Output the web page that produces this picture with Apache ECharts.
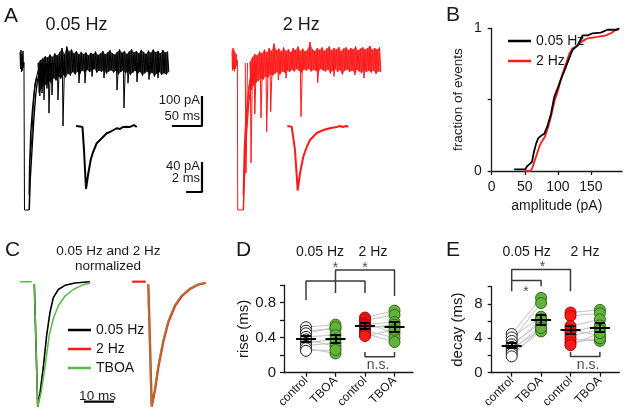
<!DOCTYPE html>
<html>
<head>
<meta charset="utf-8">
<script src="https://cdn.jsdelivr.net/npm/echarts@6/dist/echarts.min.js"></script>
<style>
  html, body { margin: 0; padding: 0; background: #fff; }
  #chart { width: 626px; height: 419px; }
</style>
</head>
<body>
<div id="chart"></div>
<script>
// ---------- Panel A: sweeps (ms, pA) ----------
const bandStart = 30, bandStep = 4

const aBlackStart = [[0, 27], [0.8, -30], [1.7, 33], [2.5, -40], [3.3, 20], [4.2, -35], [5, 30], [5.8, -25], [6.6, -8]]
const aBlackDip = [[6.6, -8], [7.5, -500], [15.5, -500], [15.6, -355], [19.5, -267], [22.2, -155], [25, -77], [30.5, -33]]
const aBlackSweeps = [
  [[15.5, -500], [17, -400], [20, -300], [23, -200], [26, -120], [29, -70], [33, -40]],
  [[15.5, -450], [16.5, -330], [18, -240], [21, -160], [24, -100], [28, -55]]
]
const aBlackUpper = [
  -10, 0, 5, 12, 8, 18, 10, 22, 15, 25, 40,
  20, 45, 28, 35, 22, 30, 18, 27, 20, 25, 15,
  24, 20, 28, 17, 22, 30, 19, 25, 32, 22, 18,
  27, 35, 24, 30, 20, 28, 36, 25, 30, 22, 33,
  27, 20, 31, 24, 35, 26, 30, 22, 33, 25, 28
]
const aBlackLower = [
  -110, -95, -80, -85, -70, -75, -60, -68, -55, -62, -50,
  -58, -45, -52, -40, -48, -38, -45, -35, -42, -33, -40,
  -36, -30, -42, -35, -40, -32, -45, -38, -34, -42, -36,
  -48, -40, -35, -44, -38, -50, -42, -36, -46, -40, -52,
  -44, -38, -50, -42, -55, -45, -40, -50, -44, -48, -40
]
const aBlackSpikes = [[33, -120], [36.7, -110], [40, -133], [45, -95], [48.3, -177], [53.3, -117], [63.3, -133],
  [71.7, -220], [98.3, -77], [108.3, -77], [120, -55], [140, -60], [161.7, -100], [173.3, -160], [180, -77],
  [195, -73], [215, -65], [230, -60]]
const aBlackInset = [[0.75, 0], [1, 1.3], [1.25, -0.7], [1.56, -1.3], [1.75, -32], [2, -84], [2.29, -63], [2.59, -45],
  [2.875, -35], [3.34, -23], [3.75, -18.7], [4.59, -9.7], [5, -8], [5.84, -3], [6.25, -4], [6.6, -1.3],
  [7.09, -1], [7.5, -1.3], [7.75, 0], [8, 1.3], [8.34, -1.3]]

const aRedStart = [[0, 30], [0.8, -35], [1.6, 40], [2.4, -30], [3.2, 35], [4, -38], [5, 25], [6, -30], [7, 20], [8, -20], [9, 0]]
const aRedDip = [[9, 0], [9.5, -500], [18.9, -500], [19.5, -400], [22.8, -267], [27.2, -100], [32.8, -30], [43.8, -10]]
const aRedSweeps = [
  [[19, -500], [21, -380], [24, -250], [28, -140], [33, -70], [40, -35]],
  [[18.9, -450], [20.5, -300], [23, -200], [27, -120], [31, -60]]
]
const aRedUpper = [
  -5, 10, 20, 15, 28, 22, 35, 25, 40, 30, 55,
  32, 38, 28, 42, 30, 36, 26, 40, 33, 45, 30,
  38, 28, 35, 60, 36, 30, 40, 34, 42, 30, 38,
  45, 32, 40, 35, 43, 30, 38, 42, 33, 40, 36,
  45, 32, 38, 42, 35, 40, 47, 34, 40, 36, 42
]
const aRedLower = [
  -100, -85, -75, -70, -62, -65, -55, -58, -48, -52, -45,
  -40, -48, -38, -42, -35, -40, -33, -38, -30, -36, -42,
  -32, -35, -30, -38, -33, -36, -40, -30, -35, -38, -32,
  -45, -36, -30, -40, -34, -48, -36, -32, -40, -35, -42,
  -33, -38, -44, -34, -40, -36, -42, -35, -46, -38, -40
]
const aRedSpikes = [[23.3, -377], [31.7, -343], [38, -180], [48.3, -193], [57.8, -239], [64.5, -172], [77.2, -67],
  [90, -60], [115, -189], [142.8, -76], [170, -55], [205, -50], [220, -60]]
const aRedInset = [[0.91, 0], [1.125, 1.3], [1.46, -1], [1.66, -2.3], [1.875, -32], [2.21, -86], [2.5, -63], [2.91, -41],
  [3.34, -28], [3.75, -18.7], [4.59, -9.3], [5.125, -6.7], [5.84, -4], [6.375, -2.7], [7.09, -1.3], [7.5, 0],
  [7.875, -1.3], [8.25, 0], [8.54, -1]]

const aScaleBar = [[253.3, -220], [303.3, -220], [303.3, -120]]      // 50 ms, 100 pA
const aInsetScaleBar = [[14.5, -88], [16.5, -88], [16.5, -48]]        // 2 ms, 40 pA

// ---------- Panel B: cumulative amplitude ----------
const cdf005 = [[34, 0.012], [50.8, 0.012], [53, 0.03], [56.8, 0.047], [61, 0.065], [63.4, 0.124], [67, 0.19], [70.4, 0.23],
  [75.5, 0.25], [79.5, 0.26], [84.6, 0.32], [89.6, 0.40], [94.6, 0.52], [99.7, 0.58], [103.6, 0.63], [109.7, 0.70],
  [117.2, 0.79], [122.3, 0.85], [130, 0.88], [135, 0.93], [137.5, 0.95], [145, 0.95], [152.6, 0.965], [165, 0.97],
  [175, 0.99], [190, 0.99], [193, 1.0]]
const cdf2 = [[50.8, 0], [59.4, 0], [62, 0.03], [67, 0.10], [72, 0.17], [75.5, 0.205], [80.5, 0.24], [85.6, 0.31],
  [90.6, 0.40], [95.6, 0.50], [100.6, 0.57], [105.7, 0.66], [110.7, 0.73], [117.2, 0.82], [122.3, 0.86], [130, 0.88],
  [137.5, 0.91], [145, 0.93], [160, 0.94], [172.7, 0.95], [180, 0.965], [188, 0.99], [192, 1.0]]
const bTicks = [0, 50, 100, 150]

// ---------- Panel C: normalized EPSCs ----------
const cDashLeft = [[0, 0], [3.9, 0]]
const cDashRight = [[37.4, 0], [41.9, 0]]
const cLeft005 = [[4.77, -0.02], [5.9, -1], [6.67, -0.893], [7.77, -0.684], [8.9, -0.427], [10, -0.245], [11.1, -0.128],
  [12.77, -0.0625], [15, -0.029], [18.3, -0.01], [23.3, 0]]
const cLeftTboa = [[4.77, -0.02], [5.9, -1], [7, -0.893], [8.33, -0.684], [9.77, -0.427], [11.1, -0.297], [12.77, -0.193],
  [15, -0.115], [17.77, -0.0625], [20.57, -0.029], [23.3, -0.01]]
const cRight2Hz = [[42.77, -0.02], [43.9, -1], [45, -0.867], [46.1, -0.684], [47.77, -0.479], [49.43, -0.323], [51.67, -0.193],
  [53.9, -0.115], [56.67, -0.058], [59.43, -0.023], [61.9, -0.01]]
const cRightTboa = [[42.7, -0.02], [43.85, -1], [44.95, -0.867], [46, -0.684], [47.67, -0.479], [49.3, -0.323], [51.5, -0.193],
  [53.7, -0.115], [56.5, -0.058], [59.3, -0.023], [61.9, -0.01]]
const cScaleBar = [[21.33, -0.961], [31.33, -0.961]]                 // 10 ms

// ---------- Panels D/E: per-cell values ----------
const groupLabels = ['control', 'TBOA', 'control', 'TBOA']

const riseControl005 = [0.52, 0.48, 0.45, 0.41, 0.38, 0.34, 0.31, 0.28, 0.25]
const riseTboa005 = [0.55, 0.50, 0.52, 0.43, 0.30, 0.38, 0.34, 0.22, 0.26]
const riseControl2 = [0.63, 0.60, 0.57, 0.55, 0.53, 0.51, 0.48, 0.45, 0.42]
const riseTboa2 = [0.71, 0.66, 0.45, 0.58, 0.52, 0.55, 0.40, 0.35, 0.49]
const riseMean = [0.39, 0.385, 0.535, 0.525]
const riseSem = [0.038, 0.047, 0.032, 0.057]

const decayControl005 = [4.5, 4.1, 3.7, 3.3, 3.0, 2.8, 2.5, 2.2, 1.9]
const decayTboa005 = [8.7, 6.5, 8.1, 5.8, 6.2, 5.0, 5.5, 4.8, 5.2]
const decayControl2 = [7.0, 6.6, 5.4, 5.0, 4.7, 4.3, 3.9, 3.5, 3.2]
const decayTboa2 = [7.3, 6.9, 6.2, 4.3, 5.5, 5.0, 3.7, 4.0, 4.6]
const decayMean = [3.16, 6.16, 4.99, 5.26]
const decaySem = [0.29, 0.58, 0.45, 0.53]

const riseBrackets = [
  [[1, 0.831], [1, 1.048], [3, 1.048], [3, 0.91]],
  [[2, 0.91], [2, 1.174], [4, 1.174], [4, 0.877]],
  [[3, 0.237], [3, 0.183], [4, 0.183], [4, 0.237]]
]
const riseMarks = [['*', 2, 1.197], ['*', 3, 1.197], ['n.s.', 3.44, 0.088]]
const decayBrackets = [
  [[1, 9.47], [1, 12.01], [3, 12.01], [3, 9.47]],
  [[1, 10.73], [2, 10.73], [2, 10.06]],
  [[3, 2.42], [3, 1.87], [4, 1.87], [4, 2.42]]
]
const decayMarks = [['*', 2.05, 12.25], ['*', 1.49, 9.32], ['n.s.', 3.6, 0.9]]

// ---------- styling ----------
const FONT = 'Liberation Sans, Arial, sans-serif'
const INK = '#1a1a1a'
const RED = '#ff1a1a'
const GREEN = '#5cb848'
const PT_GREEN = '#63b23c'

const zigzag = (t0, step, upper, lower) => {
  const pts = []
  upper.forEach((u, i) => {
    pts.push([t0 + i * step, u])
    if (i < lower.length) pts.push([t0 + i * step + step / 2, lower[i]])
  })
  return pts
}

const trace = (g, data, color, width, extra) => Object.assign({
  type: 'line', xAxisIndex: g, yAxisIndex: g, data, symbol: 'none', silent: true,
  lineStyle: { color, width }, itemStyle: { color }, z: 2
}, extra || {})

// noise band: polygon between the envelopes (through the axis scales), zigzag drawn on top
const bandSeries = (g, t0, step, upper, lower, color) => [
  {
    type: 'custom', xAxisIndex: g, yAxisIndex: g, silent: true, z: 1,
    data: [[t0, upper[0]]],
    renderItem: (params, api) => {
      const top = upper.map((u, i) => api.coord([t0 + i * step, u]))
      const bottom = lower.map((l, i) => api.coord([t0 + i * step + step / 2, l])).reverse()
      return { type: 'polygon', shape: { points: top.concat(bottom) }, style: { fill: color, opacity: 0.8 } }
    }
  },
  trace(g, zigzag(t0, step, upper, lower), color, 1)
]

const spikeSeries = (g, spikes, color) => spikes.map(([t, d]) =>
  trace(g, [[t - 1.2, -10], [t, d], [t + 2.5, -10]], color, 1))

const hiddenAxis = (g, min, max) => ({ gridIndex: g, type: 'value', min, max, show: false })

const axisCommon = {
  axisLine: { show: true, lineStyle: { color: INK, width: 1.3 } },
  axisTick: { show: true, length: 4, lineStyle: { color: INK, width: 1.3 } },
  splitLine: { show: false }
}

const statsSeries = (g, groups, mean, sem, brackets, marks) => {
  const pairs = []
  ;[[0, 1], [2, 3]].forEach(([a, b]) => {
    groups[a].vals.forEach((v, i) => pairs.push({ coords: [[a + 1, v], [b + 1, groups[b].vals[i]]] }))
  })
  const bars = []
  mean.forEach((m, i) => {
    const x = i + 1, s = sem[i]
    bars.push({ coords: [[x - 0.34, m], [x + 0.34, m]] })
    bars.push({ coords: [[x, m - s], [x, m + s]] })
    bars.push({ coords: [[x - 0.17, m - s], [x + 0.17, m - s]] })
    bars.push({ coords: [[x - 0.17, m + s], [x + 0.17, m + s]] })
  })
  const out = [{
    type: 'lines', coordinateSystem: 'cartesian2d', xAxisIndex: g, yAxisIndex: g, data: pairs, silent: true,
    lineStyle: { color: '#c2c2c2', width: 1, opacity: 1 }, z: 2
  }]
  groups.forEach((grp, i) => out.push({
    type: 'scatter', xAxisIndex: g, yAxisIndex: g, silent: true, symbolSize: 11, z: 3,
    data: grp.vals.map(v => [i + 1, v]),
    itemStyle: { color: grp.fill, borderColor: grp.edge, borderWidth: 1, opacity: 1 }
  }))
  out.push({
    type: 'lines', coordinateSystem: 'cartesian2d', xAxisIndex: g, yAxisIndex: g, data: bars, silent: true,
    lineStyle: { color: '#000', width: 2, opacity: 1 }, z: 5
  })
  brackets.forEach(b => out.push(trace(g, b, '#3a3a3a', 1.5, { clip: false, z: 5 })))
  out.push({
    type: 'scatter', xAxisIndex: g, yAxisIndex: g, silent: true, symbolSize: 0, clip: false, z: 6,
    data: marks.map(([txt, x, y]) => ({ name: txt, value: [x, y] })),
    label: { show: true, position: 'inside', formatter: '{b}', color: INK, fontSize: 14, fontFamily: FONT }
  })
  return out
}

const texts = [
  ['A', 4, 16.5, 21, 'left'], ['B', 446, 15.5, 21, 'left'], ['C', 5, 250.5, 21, 'left'],
  ['D', 236, 250.5, 21, 'left'], ['E', 446, 250.5, 21, 'left'],
  ['0.05 Hz', 76.5, 25, 18, 'center'], ['2 Hz', 301.3, 25, 18, 'center'],
  ['100 pA', 200, 100, 13, 'right'], ['50 ms', 200, 116, 13, 'right'],
  ['40 pA', 200, 166.7, 13, 'right'], ['2 ms', 200, 178.3, 13, 'right'],
  ['0.05 Hz and 2 Hz', 108.3, 251.7, 13.5, 'center'], ['normalized', 108, 266, 13.5, 'center'],
  ['10 ms', 97.5, 396, 13.5, 'center'],
  ['0.05 Hz', 320, 251.7, 14, 'center'], ['2 Hz', 373, 251.7, 14, 'center'],
  ['0.05 Hz', 526.7, 251.7, 14, 'center'], ['2 Hz', 585, 251.7, 14, 'center']
]

const chart = echarts.init(document.getElementById('chart'), null, { renderer: 'canvas' })

const option = {
  animation: false,
  backgroundColor: '#fff',
  textStyle: { fontFamily: FONT, color: INK },
  grid: [
    { left: 20, top: 42, width: 190, height: 180 },
    { left: 70, top: 111, width: 140, height: 90 },
    { left: 232, top: 42, width: 160, height: 180 },
    { left: 280, top: 111, width: 80, height: 90 },
    { left: 491.7, top: 28.3, width: 130.3, height: 142.7 },
    { left: 20, top: 269.2, width: 195, height: 153.6 },
    { left: 284, top: 285.2, width: 129, height: 87.5 },
    { left: 491.7, top: 286.7, width: 127.6, height: 86 }
  ],
  xAxis: [
    hiddenAxis(0, 0, 316.67),
    hiddenAxis(1, 0, 17.5),
    hiddenAxis(2, 0, 266.67),
    hiddenAxis(3, 0, 10),
    Object.assign({}, axisCommon, {
      gridIndex: 4, type: 'value', min: 0, max: 197,
      axisTick: Object.assign({}, axisCommon.axisTick, { customValues: bTicks }),
      axisLabel: { customValues: bTicks, fontSize: 14, margin: 9, color: INK },
      name: 'amplitude (pA)', nameLocation: 'middle', nameGap: 28,
      nameTextStyle: { fontSize: 14, color: INK }
    }),
    hiddenAxis(5, 0, 65),
    Object.assign({}, axisCommon, {
      gridIndex: 6, type: 'value', min: 0.254, max: 4.627,
      axisTick: Object.assign({}, axisCommon.axisTick, { customValues: [1, 2, 3, 4] }),
      axisLabel: { customValues: [1, 2, 3, 4], rotate: 45, fontSize: 12, margin: 6, color: INK,
        formatter: v => groupLabels[Math.round(v) - 1] }
    }),
    Object.assign({}, axisCommon, {
      gridIndex: 7, type: 'value', min: 0.32, max: 4.66,
      axisTick: Object.assign({}, axisCommon.axisTick, { customValues: [1, 2, 3, 4] }),
      axisLabel: { customValues: [1, 2, 3, 4], rotate: 45, fontSize: 12, margin: 6, color: INK,
        formatter: v => groupLabels[Math.round(v) - 1] }
    })
  ],
  yAxis: [
    hiddenAxis(0, -540, 60),
    hiddenAxis(1, -100, 20),
    hiddenAxis(2, -540, 60),
    hiddenAxis(3, -100, 20),
    Object.assign({}, axisCommon, {
      gridIndex: 4, type: 'value', min: 0, max: 1, interval: 0.5,
      axisLabel: { customValues: [0, 1], fontSize: 14, margin: 10, color: INK },
      name: 'fraction of events', nameLocation: 'middle', nameGap: 26,
      nameTextStyle: { fontSize: 13.5, color: INK }
    }),
    hiddenAxis(5, -1.1, 0.1),
    Object.assign({}, axisCommon, {
      gridIndex: 6, type: 'value', min: 0, max: 1, interval: 0.2,
      axisLabel: { customValues: [0, 0.4, 0.8], fontSize: 15, margin: 8, color: INK },
      name: 'rise (ms)', nameLocation: 'middle', nameGap: 25,
      nameTextStyle: { fontSize: 15, color: INK }
    }),
    Object.assign({}, axisCommon, {
      gridIndex: 7, type: 'value', min: 0, max: 10, interval: 2,
      axisLabel: { customValues: [0, 4, 8], fontSize: 15, margin: 9, color: INK },
      name: 'decay (ms)', nameLocation: 'middle', nameGap: 26,
      nameTextStyle: { fontSize: 15, color: INK }
    })
  ],
  legend: [
    { data: ['0.05 Hz', '2 Hz'], left: 503, top: 29, orient: 'vertical', icon: 'rect', itemWidth: 23, itemHeight: 2.5,
      itemGap: 6, selectedMode: false, textStyle: { fontSize: 14, color: INK, fontFamily: FONT } },
    { data: ['0.05 Hz', '2 Hz', 'TBOA'], left: 63, top: 318, orient: 'vertical', icon: 'rect', itemWidth: 23, itemHeight: 2.5,
      itemGap: 5, selectedMode: false, textStyle: { fontSize: 14, color: INK, fontFamily: FONT } }
  ],
  graphic: texts.map(([text, x, y, size, align]) => ({
    type: 'text', x, y, silent: true,
    style: { text, fill: INK, fontSize: size, fontFamily: FONT, align, verticalAlign: 'middle' }
  })),
  series: [
    // A black
    trace(0, aBlackStart.concat(aBlackDip), '#000', 1),
    ...aBlackSweeps.map(s => trace(0, s, '#000', 1.4)),
    ...bandSeries(0, bandStart, bandStep, aBlackUpper, aBlackLower, '#000'),
    ...spikeSeries(0, aBlackSpikes, '#000'),
    trace(1, aBlackInset, '#000', 2),
    trace(0, aScaleBar, '#000', 2.2),
    trace(1, aInsetScaleBar, '#000', 2.2),
    // A red
    trace(2, aRedStart.concat(aRedDip), RED, 1),
    ...aRedSweeps.map(s => trace(2, s, RED, 1.4)),
    ...bandSeries(2, bandStart, bandStep, aRedUpper, aRedLower, RED),
    ...spikeSeries(2, aRedSpikes, RED),
    trace(3, aRedInset, RED, 2),
    // B
    trace(4, cdf2, RED, 1.8, { name: '2 Hz' }),
    trace(4, cdf005, '#000', 1.8, { name: '0.05 Hz' }),
    // C
    trace(5, cLeft005, '#000', 1.6, { name: '0.05 Hz' }),
    trace(5, cLeftTboa, GREEN, 1.5, { name: 'TBOA' }),
    trace(5, cDashLeft, GREEN, 1.5, { name: 'TBOA' }),
    trace(5, cRight2Hz, RED, 2.4, { name: '2 Hz' }),
    trace(5, cDashRight, RED, 2.2, { name: '2 Hz' }),
    trace(5, cRightTboa, GREEN, 1.6, { name: 'TBOA', lineStyle: { color: GREEN, width: 1.6, opacity: 0.65 } }),
    trace(5, cScaleBar, '#000', 2.2),
    // D
    ...statsSeries(6, [
      { vals: riseControl005, fill: '#fff', edge: '#222' },
      { vals: riseTboa005, fill: PT_GREEN, edge: '#2f6b1c' },
      { vals: riseControl2, fill: RED, edge: '#a00' },
      { vals: riseTboa2, fill: PT_GREEN, edge: '#2f6b1c' }
    ], riseMean, riseSem, riseBrackets, riseMarks),
    // E
    ...statsSeries(7, [
      { vals: decayControl005, fill: '#fff', edge: '#222' },
      { vals: decayTboa005, fill: PT_GREEN, edge: '#2f6b1c' },
      { vals: decayControl2, fill: RED, edge: '#a00' },
      { vals: decayTboa2, fill: PT_GREEN, edge: '#2f6b1c' }
    ], decayMean, decaySem, decayBrackets, decayMarks)
  ]
}

chart.setOption(option)
window.addEventListener('resize', () => chart.resize())
</script>
</body>
</html>
